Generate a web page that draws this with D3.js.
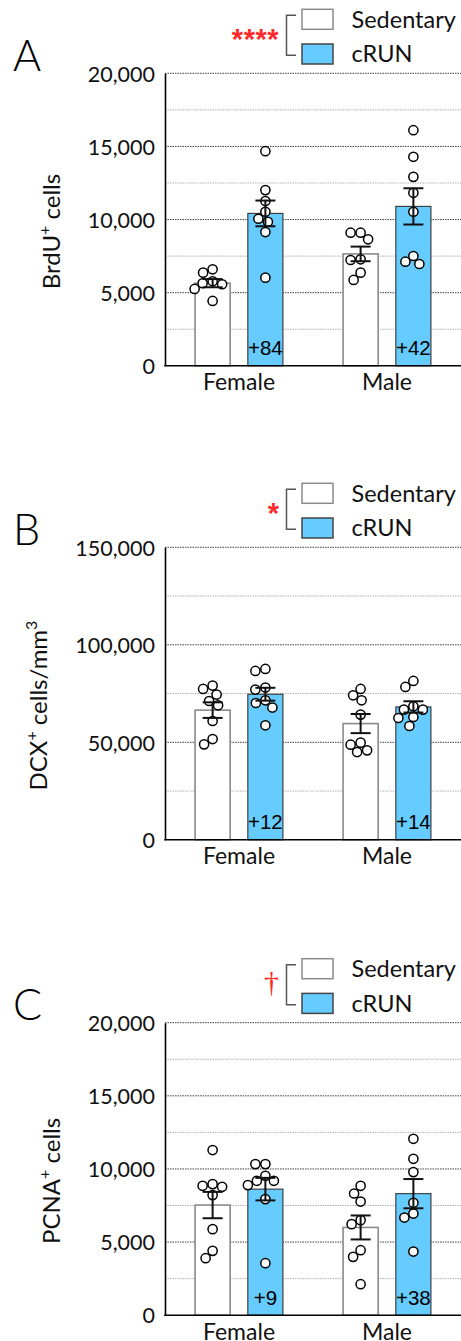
<!DOCTYPE html>
<html>
<head>
<meta charset="utf-8">
<script src="https://cdn.jsdelivr.net/npm/d3@7"></script>
<style>
  html, body { margin: 0; padding: 0; background: #fff; }
  svg { display: block; }
</style>
</head>
<body>
<svg id="chart" width="461" height="1341"></svg>
<script>
// ---------------- DATA ----------------
const categories = ["Female", "Male"];
const groups = ["Sedentary", "cRUN"];
const panelLetters = ["A", "B", "C"];
const yMaxValues = [20000, 150000, 20000];
const ticksA = [0, 5000, 10000, 15000, 20000];
const ticksB = [0, 50000, 100000, 150000];
const ticksC = [0, 5000, 10000, 15000, 20000];
const minorA = [2500, 7500, 12500, 17500];
const minorB = [25000, 75000, 125000];
const minorC = [2500, 7500, 12500, 17500];
const significance = ["****", "*", "†"];

// means [category][group]
const meansA = [[5650, 10420], [7650, 10900]];
const meansB = [[66500, 74650], [59600, 68150]];
const meansC = [[7530, 8620], [6000, 8310]];
// SEM [category][group]
const semA = [[280, 880], [500, 1240]];
const semB = [[4000, 3300], [4900, 2900]];
const semC = [[900, 770], [820, 1000]];
// percent change labels (cRUN vs Sedentary)
const pctA = ["+84", "+42"];
const pctB = ["+12", "+14"];
const pctC = ["+9", "+38"];

// individual animals [category][group][values]
const pointsA = [
  [[6370, 6600, 5645, 5577, 5780, 5256, 4437],
   [14676, 12014, 11263, 10532, 9850, 10055, 9147, 6027]],
  [[9100, 8650, 9100, 7280, 7235, 6370, 5870],
   [16110, 14290, 12920, 11830, 10532, 7509, 6962, 7119]]
];
const pointsB = [
  [[79090, 77350, 74470, 71190, 68980, 60920, 51670, 48950],
   [87620, 86590, 77040, 78070, 70160, 71550, 67800, 58710]],
  [[77350, 74110, 71550, 64200, 48790, 49820, 44990, 45860],
   [81460, 78380, 66770, 68460, 66770, 62970, 62460, 58350]]
];
const pointsC = [
  [[11290, 8847, 8779, 8963, 8211, 5884, 4400, 3900],
   [10330, 10330, 9189, 9531, 9189, 8895, 7937, 3558]],
  [[8847, 8320, 7772, 6226, 6500, 4447, 3989, 2121],
   [12063, 10695, 9785, 7684, 6952, 6678, 4352]]
];

const yLabels = [
  [["BrdU", 0], ["+", 1], [" cells", 0]],
  [["DCX", 0], ["+", 1], [" cells/mm", 0], ["3", 1]],
  [["PCNA", 0], ["+", 1], [" cells", 0]]
];

const panelData = [
  {means: meansA, sem: semA, pts: pointsA, pct: pctA, ticks: ticksA, minor: minorA},
  {means: meansB, sem: semB, pts: pointsB, pct: pctB, ticks: ticksB, minor: minorB},
  {means: meansC, sem: semC, pts: pointsC, pct: pctC, ticks: ticksC, minor: minorC}
];

// ---------------- LAYOUT ----------------
const svg = d3.select("#chart");
const fontMain = "Lato, 'Open Sans', 'DejaVu Sans', sans-serif";
const fontArial = "'Liberation Sans', Arial, sans-serif";
const panelTops = [73.3, 547.3, 1022.7];
const plotH = 292.5;
const xLeft = 165, xRight = 461;
const blue = "#66ccff";
const R = 4.6;

function swarm(values, y, cx, r) {
  const order = values.map((v, i) => i).sort((a, b) => values[b] - values[a]);
  const placed = [];
  const minD = 2 * r + 0.6;
  order.forEach(i => {
    const py = y(values[i]);
    for (let k = 0; k < 400; k++) {
      const off = (k % 2 === 0 ? 1 : -1) * Math.ceil(k / 2) * 0.5;
      const ok = placed.every(p => (p.x - (cx + off)) ** 2 + (p.y - py) ** 2 >= minD * minD);
      if (ok) { placed.push({x: cx + off, y: py}); break; }
    }
  });
  return placed;
}

panelData.forEach((pd, pi) => {
  const T = panelTops[pi];
  const B = T + plotH;
  const g = svg.append("g");

  const y = d3.scaleLinear().domain([0, yMaxValues[pi]]).range([B, T]);
  const x0 = d3.scaleBand().domain(categories).range([xLeft, xRight]).paddingInner(0).paddingOuter(0);
  const x1 = d3.scaleBand().domain(groups).range([0, x0.bandwidth()]).paddingInner(0.335).paddingOuter(0.57);

  // minor gridlines
  g.selectAll("line.minor").data(pd.minor).join("line")
    .attr("x1", xLeft).attr("x2", xRight)
    .attr("y1", d => y(d)).attr("y2", d => y(d))
    .attr("stroke", "#b0b0b0").attr("stroke-width", 1).attr("stroke-dasharray", "1.5,1");
  // major gridlines
  g.selectAll("line.major").data(pd.ticks.filter(t => t > 0)).join("line")
    .attr("x1", xLeft).attr("x2", xRight)
    .attr("y1", d => y(d)).attr("y2", d => y(d))
    .attr("stroke", "#444").attr("stroke-width", 1).attr("stroke-dasharray", "1.5,1");

  // y axis via d3.axisLeft
  const yAxis = d3.axisLeft(y).tickValues(pd.ticks).tickFormat(d3.format(",")).tickSize(0).tickPadding(10);
  const ax = g.append("g").attr("transform", `translate(${xLeft},0)`).call(yAxis);
  ax.select(".domain").attr("stroke", "#000").attr("stroke-width", 1.6);
  ax.selectAll("text").attr("font-family", fontMain).attr("font-size", 21.5).attr("fill", "#111")
    .attr("dy", "0.36em");

  // bars
  categories.forEach((cat, ci) => {
    groups.forEach((grp, gi) => {
      const bx = x0(cat) + x1(grp);
      const bw = x1.bandwidth();
      const m = pd.means[ci][gi];
      g.append("rect")
        .attr("x", bx).attr("y", y(m))
        .attr("width", bw).attr("height", B - y(m))
        .attr("fill", gi === 0 ? "#fff" : blue)
        .attr("stroke", gi === 0 ? "#8a8a8a" : "#333")
        .attr("stroke-width", gi === 0 ? 1.6 : 1.1);
    });
  });

  // percent labels inside cRUN bars
  categories.forEach((cat, ci) => {
    const cx = x0(cat) + x1("cRUN") + x1.bandwidth() / 2;
    g.append("text").attr("x", cx).attr("y", B - 10.5)
      .attr("text-anchor", "middle").attr("font-family", fontArial).attr("font-size", 20.5)
      .attr("fill", "#000").text(pd.pct[ci]);
  });

  // points
  categories.forEach((cat, ci) => {
    groups.forEach((grp, gi) => {
      const cx = x0(cat) + x1(grp) + x1.bandwidth() / 2;
      const pos = swarm(pd.pts[ci][gi], y, cx, R);
      g.selectAll(null).data(pos).join("circle")
        .attr("cx", d => d.x).attr("cy", d => d.y).attr("r", R)
        .attr("fill", "#fff").attr("stroke", "#000").attr("stroke-width", 1.5);
    });
  });

  // error bars
  categories.forEach((cat, ci) => {
    groups.forEach((grp, gi) => {
      const cx = x0(cat) + x1(grp) + x1.bandwidth() / 2;
      const m = pd.means[ci][gi], s = pd.sem[ci][gi];
      const eg = g.append("g").attr("stroke", "#111").attr("stroke-width", 2);
      eg.append("line").attr("x1", cx).attr("x2", cx).attr("y1", y(m + s)).attr("y2", y(m - s));
      eg.append("line").attr("x1", cx - 10).attr("x2", cx + 10).attr("y1", y(m + s)).attr("y2", y(m + s));
      eg.append("line").attr("x1", cx - 10).attr("x2", cx + 10).attr("y1", y(m - s)).attr("y2", y(m - s));
    });
  });

  // x baseline
  g.append("line").attr("x1", xLeft - 0.8).attr("x2", xRight).attr("y1", B).attr("y2", B)
    .attr("stroke", "#000").attr("stroke-width", 1.6);

  // category labels
  g.selectAll("text.cat").data(categories).join("text")
    .attr("x", d => x0(d) + x0.bandwidth() / 2).attr("y", B + 24.5)
    .attr("text-anchor", "middle").attr("font-family", fontMain).attr("font-size", 23)
    .attr("fill", "#111").text(d => d);

  // y label
  const lx = pi === 1 ? 46.5 : 60;
  const ly = (T + B) / 2 + 12;
  const yl = g.append("text")
    .attr("transform", `translate(${lx},${ly}) rotate(-90)`)
    .attr("text-anchor", "middle").attr("font-family", fontMain).attr("font-size", 24).attr("fill", "#111");
  let sup = 0;
  yLabels[pi].forEach(([txt, s]) => {
    const dy = s === sup ? 0 : (s ? -10 : 10);
    yl.append("tspan").attr("dy", dy).attr("font-size", s ? 16 : 24).text(txt);
    sup = s;
  });

  // panel letter
  g.append("text").attr("x", 13).attr("y", T - 2.5)
    .attr("font-family", fontMain).attr("font-size", 43).attr("font-weight", 300)
    .attr("fill", "#000").text(panelLetters[pi]);

  // legend
  const lg = g.append("g");
  groups.forEach((grp, gi) => {
    const by = T - 64 + gi * 34.7;
    lg.append("rect").attr("x", 302).attr("y", by).attr("width", 31).attr("height", 20)
      .attr("fill", gi === 0 ? "#fff" : blue)
      .attr("stroke", gi === 0 ? "#8a8a8a" : "#444").attr("stroke-width", 1.5);
    lg.append("text").attr("x", 351.5).attr("y", by + 18.3)
      .attr("font-family", fontMain).attr("font-size", 23.5).attr("fill", "#111").text(grp);
  });
  lg.append("path")
    .attr("d", `M296,${T - 58}H286.5V${T - 18}H296`)
    .attr("fill", "none").attr("stroke", "#555").attr("stroke-width", 1.5);

  // significance marker
  const sig = significance[pi];
  if (sig === "†") {
    lg.append("text").attr("x", 279).attr("y", T - 31)
      .attr("text-anchor", "end").attr("font-family", "'Liberation Serif', 'DejaVu Serif', serif")
      .attr("font-size", 30).attr("fill", "#ff2a2a").text(sig);
  } else {
    lg.append("text").attr("x", 279).attr("y", T - 39 + 15)
      .attr("text-anchor", "end").attr("font-family", fontArial)
      .attr("font-size", 29).attr("font-weight", "bold").attr("letter-spacing", sig.length > 1 ? 0.5 : 0)
      .attr("fill", "#ff2a2a").text(sig);
  }
});
</script>
</body>
</html>
